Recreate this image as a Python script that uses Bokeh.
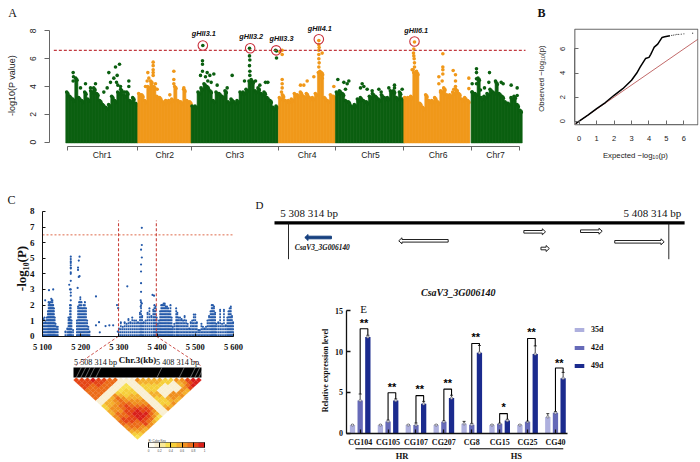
import numpy as np
from bokeh.core.properties import value
from bokeh.embed import file_html
from bokeh.resources import INLINE
from bokeh.layouts import column, row
from bokeh.plotting import figure
from bokeh.models import (Range1d, LinearAxis, FixedTicker, ColumnDataSource, Whisker, TeeHead,
                          LinearColorMapper, ColorBar, Legend, LegendItem)

SANS = "Liberation Sans"
SERIF = "Liberation Serif"

# ---- Panel A: Manhattan (envelope of the dense mass per chromosome bin, then the points above it)
chr_edges = [196, 412, 572, 834, 1005, 1210, 1412, 1560]
chr_ticks = [200, 412, 572, 834, 1005, 1210, 1412, 1557]
chr_centers = [305, 493, 703, 920, 1110, 1313, 1485]
chr_names = ["Chr1", "Chr2", "Chr3", "Chr4", "Chr5", "Chr6", "Chr7"]
chr1_top = [3.6, 3.3, 3.1, 4.6, 3.2, 3.0, 3.6, 3.1, 3.7, 3.9, 3.5, 3.0, 2.7, 2.5, 2.7, 3.3, 3.0, 3.6, 3.8, 3.4, 3.6, 3.0, 3.2, 2.8]
chr2_top = [3.5, 3.4, 3.0, 4.0, 4.4, 4.0, 3.3, 3.2, 2.9, 3.0, 3.0, 3.1, 4.0, 3.0, 2.9, 3.8, 3.0, 2.9]
chr3_top = [2.6, 2.6, 3.6, 3.9, 4.2, 4.0, 3.7, 3.0, 3.6, 3.5, 3.3, 3.7, 2.9, 3.1, 2.9, 3.0, 3.6, 3.6, 3.8, 4.4, 4.4, 3.7, 3.9, 3.5, 3.6, 3.2, 3.0, 2.5, 2.6]
chr4_top = [3.2, 3.4, 3.0, 3.0, 3.1, 3.5, 3.4, 3.6, 3.3, 3.5, 3.2, 3.2, 3.5, 5.0, 5.0, 3.2, 3.0, 3.4, 3.3]
chr5_top = [3.6, 3.7, 3.5, 3.0, 2.9, 2.6, 2.7, 3.1, 3.2, 3.0, 2.9, 3.3, 3.5, 3.3, 3.1, 3.4, 3.2, 3.2, 3.7, 3.7, 3.2, 3.6, 3.1]
chr6_top = [3.2, 3.2, 3.3, 5.0, 5.0, 2.8, 2.5, 3.4, 3.0, 3.0, 3.2, 2.9, 3.7, 3.9, 3.4, 3.4, 3.6, 3.8, 3.5, 3.1, 3.2, 3.0]
chr7_top = [3.6, 3.5, 4.6, 3.2, 3.3, 3.5, 3.8, 3.6, 4.3, 3.5, 3.3, 2.9, 2.8, 3.2, 3.3, 2.7, 2.3]
green_pos = [218, 219, 218, 325, 345, 357, 340, 350, 348, 352, 330, 385, 385, 360, 372, 255, 240, 285, 270, 310, 320,
             607, 606, 606, 606, 620, 628, 640, 615, 600, 622, 632, 650, 695, 680, 747, 747, 748, 747, 748, 748, 752, 732, 765, 778, 795, 802, 825, 828, 828,
             1012, 1030, 1045, 1040, 1035, 1085, 1090, 1100, 1080, 1115, 1135, 1165, 1182, 1182, 1205, 1142,
             1428, 1428, 1428, 1428, 1467, 1465, 1485, 1502, 1508, 1452, 1440, 1415, 1415, 1532, 1550, 1550]
green_val = [5.0, 4.7, 4.4, 5.0, 5.4, 5.6, 4.6, 4.8, 4.3, 4.1, 4.3, 4.4, 4.0, 4.0, 3.6, 4.2, 3.9, 4.2, 3.9, 3.6, 3.9,
             6.95, 5.85, 5.6, 5.1, 5.0, 4.8, 4.9, 4.7, 4.8, 4.4, 4.3, 4.1, 4.8, 3.9, 6.75, 6.2, 5.9, 5.5, 5.1, 4.8, 4.5, 4.4, 4.4, 4.1, 4.3, 4.3, 6.6, 6.05, 6.55,
             4.5, 4.3, 4.4, 4.2, 3.8, 4.2, 4.0, 3.8, 3.9, 3.7, 3.8, 3.9, 4.1, 3.9, 3.8, 3.6,
             5.27, 5.0, 4.55, 4.2, 5.0, 4.3, 4.4, 4.3, 4.2, 3.9, 3.75, 4.2, 3.6, 4.1, 3.9, 3.35]
orange_pos = [458, 458, 458, 458, 458, 442, 445, 440, 520, 520, 520, 550, 435, 465, 508, 470,
              955, 955, 956, 955, 955, 955, 956, 955, 958, 965, 965, 940, 920, 910, 900, 845, 845, 845, 843, 838, 845, 845, 1000,
              1242, 1240, 1239, 1240, 1241, 1242, 1242, 1238, 1235, 1248, 1245, 1327, 1327, 1327, 1327, 1315, 1315, 1325, 1358, 1365, 1365, 1365, 1405, 1405, 1360, 1320, 1370]
orange_val = [5.75, 5.5, 5.2, 5.0, 4.8, 5.0, 4.6, 4.4, 5.1, 4.5, 4.2, 3.9, 4.0, 4.2, 3.4, 3.8,
              7.3, 7.0, 6.8, 6.6, 6.3, 6.0, 5.7, 5.4, 5.1, 4.6, 6.4, 4.7, 4.4, 4.1, 4.1, 4.5, 4.2, 3.9, 3.6, 6.5, 6.3, 6.6, 4.0,
              7.2, 6.7, 6.4, 6.2, 6.0, 5.7, 5.4, 5.2, 5.2, 5.1, 4.9, 6.35, 5.4, 5.2, 4.9, 4.7, 4.2, 4.4, 5.15, 4.85, 4.4, 4.0, 4.6, 3.85, 3.8, 3.6, 3.7]
qtl_names = ["gHII3.1", "gHII3.2", "gHII3.3", "gHII4.1", "gHII6.1"]
qtl_pos = [607, 749, 827, 955, 1242]
qtl_val = [6.95, 6.75, 6.6, 7.4, 7.23]
qtl_label_pos = [610, 752, 843, 958, 1247]
qtl_label_val = [7.78, 7.6, 7.47, 8.17, 8.02]
threshold_a = 6.6
a_ticks = [0, 2, 4, 6, 8]

# ---- Panel B: QQ
qq_expected = [-0.2, 0, 0.5, 1, 1.5, 2, 2.5, 3, 3.3, 3.5, 3.8, 4, 4.1, 4.2, 4.3, 4.5, 4.75, 4.9, 5.2]
qq_observed = [-0.2, 0, 0.5, 1.05, 1.55, 2.15, 2.7, 3.4, 4.0, 4.5, 5.2, 5.3, 5.55, 5.85, 6.15, 6.4, 6.95, 7.0, 7.1]
qq_tail_x = [5.3, 5.4, 5.5, 5.6, 5.7, 5.85, 6.0, 6.5]
qq_tail_y = [7.12, 7.15, 7.17, 7.2, 7.2, 7.22, 7.25, 7.3]
b_xticks = [0, 1, 2, 3, 4, 5, 6]
b_yticks = [0, 2, 4, 6]

# ---- Panel C: regional association (column position / column top, and the isolated points)
col_kb = [5102, 5105, 5108, 5111, 5114, 5116, 5118, 5120, 5122, 5124, 5126, 5128, 5130, 5132, 5134, 5137, 5140,
          5160, 5165, 5168, 5170, 5172, 5174, 5176, 5180,
          5190, 5193, 5196, 5199, 5202, 5205, 5208, 5211, 5214, 5217, 5220, 5223,
          5300, 5305, 5310, 5315, 5320, 5325, 5330, 5335, 5340, 5345, 5350, 5355, 5358, 5361, 5365, 5370, 5375, 5380, 5385, 5390, 5393, 5396, 5399,
          5402, 5405, 5408, 5411, 5414, 5417, 5420, 5423, 5426, 5429, 5432, 5435, 5438, 5441, 5445, 5450, 5453, 5456, 5460, 5464, 5468, 5472, 5476, 5480, 5484, 5488, 5492, 5496,
          5500, 5504, 5508, 5512, 5516, 5520, 5524, 5528, 5532, 5536, 5540, 5543, 5546, 5549, 5552, 5555, 5560, 5565, 5570, 5575, 5580, 5584, 5587, 5590, 5593, 5596, 5599]
col_top = [1.1, 1.2, 0.9, 1.2, 1.6, 2.2, 2.1, 2.2, 2.0, 2.3, 2.3, 2.0, 1.8, 1.2, 0.8, 0.6, 0.6,
           0.3, 0.5, 1.2, 1.1, 2.0, 2.0, 1.0, 0.4,
           1.0, 1.9, 2.2, 2.5, 2.2, 1.8, 2.0, 2.2, 1.8, 1.0, 0.6, 0.3,
           0.5, 0.9, 0.6, 0.9, 0.8, 1.1, 0.9, 1.2, 1.0, 1.0, 0.9, 1.5, 2.2, 1.3, 0.9, 1.0, 1.5, 1.8, 1.3, 1.7, 2.0, 1.9, 1.2,
           0.8, 1.0, 1.6, 2.0, 2.0, 2.1, 2.1, 1.9, 1.9, 1.8, 1.6, 2.0, 1.2, 0.6, 0.8, 1.8, 1.5, 1.2, 1.2, 1.1, 1.0, 1.3, 1.0, 0.8, 0.5, 0.9, 1.0, 1.4,
           1.4, 0.9, 0.4, 0.4, 0.8, 0.6, 0.5, 0.6, 1.0, 1.3, 1.6, 2.0, 2.0, 1.9, 1.5, 0.8, 0.9, 1.7, 0.8, 1.7, 0.7, 1.2, 1.6, 1.8, 1.9, 1.3, 0.9]
snp_kb = [5117, 5128, 5107, 5123, 5174, 5174, 5174, 5174, 5174, 5174, 5174, 5174, 5174, 5174, 5174, 5174, 5174, 5174, 5170, 5172,
          5197, 5195, 5193, 5193, 5197, 5195, 5192, 5240, 5248, 5240, 5250, 5265, 5275, 5285, 5295, 5298, 5297,
          5360, 5360, 5358, 5360, 5358, 5358, 5358, 5358, 5322, 5388, 5392, 5357, 5360, 5357]
snp_val = [2.95, 3.0, 2.3, 2.4, 5.1, 4.95, 4.8, 4.7, 4.55, 4.4, 4.35, 4.1, 4.0, 3.55, 3.0, 2.8, 2.6, 2.3, 3.3, 3.0,
           5.1, 4.85, 4.4, 4.25, 3.85, 3.8, 3.1, 2.55, 0.9, 0.7, 0.25, 0.65, 0.7, 0.7, 2.0, 1.8, 0.3,
           6.95, 5.85, 5.55, 5.05, 4.6, 4.15, 3.4, 2.85, 3.2, 2.65, 2.6, 2.3, 2.1, 1.9]
threshold_c = 6.5
window_kb = [5299, 5398]
window_top = 7.42
c_ticks = [5100, 5200, 5300, 5400, 5500, 5600]
c_tick_labels = ["5 100", "5 200", "5 300", "5 400", "5 500", "5 600"]
c_yticks = [0, 1, 2, 3, 4, 5, 6, 7, 8]

# ---- LD heat map, one digit (r2 x 9) per SNP pair; row i holds pairs (i, i+1) ... (i, 23)
ld_rows = ["8888777711" + "4455667766543",
           "888777711" + "5566778877654",
           "88777711" + "5566677887765",
           "9887711" + "5667788887765",
           "887711" + "6777888999886",
           "87711" + "4566778999876",
           "7711" + "3445667889875",
           "711" + "3445566788764",
           "11" + "3344556677653",
           "1" + "1111111111111",
           "1111111111111",
           "654445544456", "55444554445", "5544111556", "554111665", "54111665", "4411166",
           "411165", "65565", "6678", "889", "99", "9"]
ld_links = [1.0, 1.8, 2.6, 3.4, 4.5, 15.5, 19.5, 21.5, 22.3, 23.0]
ld_palette = ["#fffdf2", "#f9efd2", "#f9e998", "#f8e050", "#f6cf3a", "#f4b02c", "#f0901f", "#ec6c18", "#e54516", "#d9201a"]

# ---- Panel D: gene models (kb)
gene_start = [5319.6, 5350.3, 5370.2, 5374.7, 5385.1, 5394.1]
gene_end = [5312.6, 5337.3, 5375.9, 5376.9, 5390.8, 5407.1]
gene_track = [237.0, 240.3, 231.3, 248.0, 230.7, 241.3]
region_kb = [5308.314, 5408.314]
region_labels = ["5 308 314 bp", "5 408 314 bp"]

# ---- Panel E: expression
lines = ["CG104", "CG105", "CG107", "CG207", "CG8", "CG15", "CG25", "CG40"]
d35 = [1.0, 1.0, 1.0, 1.0, 1.15, 1.0, 1.0, 2.0]
d42 = [4.0, 1.45, 1.0, 1.4, 1.05, 1.15, 1.4, 2.5]
d49 = [11.8, 4.0, 3.6, 4.3, 9.85, 1.55, 9.7, 6.75]
e35 = [0.05, 0.03, 0.05, 0.05, 0.3, 0.03, 0.03, 0.4]
e42 = [0.8, 0.15, 0.25, 0.1, 0.15, 0.05, 0.05, 0.15]
e49 = [0.2, 0.2, 0.3, 0.35, 0.9, 0.15, 1.0, 0.7]
bracket_top = [12.8, 4.96, 4.6, 5.4, 11.0, 2.4, 11.6, 8.0]
star_y = [13.55, 5.7, 5.4, 6.2, 11.8, 3.2, 12.35, 8.65]
star_text = ["**", "**", "**", "**", "**", "*", "**", "**"]
series_names = ["35d", "42d", "49d"]
series_colors = ["#aeb0de", "#666ab8", "#1b2b8e"]
e_yticks = [0, 5, 10, 15]


def panel(w, h, xr, yr, top=0, right=0):
    p = figure(width=w, height=h, x_range=Range1d(*xr), y_range=Range1d(*yr), x_axis_type=None, y_axis_type=None,
               toolbar_location=None, output_backend="svg", min_border_left=0, min_border_right=right,
               min_border_top=top, min_border_bottom=0, outline_line_color=None, frame_align=False)
    p.grid.visible = False
    return p


def txt(p, x, y, s, size, font=SERIF, style="normal", color="#111111", align="center", angle=0.0, **kw):
    xs = list(x) if np.ndim(x) else [x] * (len(s) if isinstance(s, list) else 1)
    ys = list(y) if np.ndim(y) else [y] * (len(s) if isinstance(s, list) else 1)
    ss = s if isinstance(s, list) else [s]
    p.text(x=xs, y=ys, text=ss, text_font=value(font), text_font_size=f"{size}px", text_font_style=style,
           text_color=color, text_align=align, text_baseline="middle", angle=angle, **kw)


def axis(p, dim, loc, ticks, bounds, color="#111111", width=1.0, tick=4):
    # ticks point into the frame from an axis placed at a fixed data location; the texts are drawn by txt()
    ax = LinearAxis(fixed_location=loc, ticker=FixedTicker(ticks=ticks), bounds=bounds,
                    axis_line_color=color, axis_line_width=width, major_tick_line_color=color, major_tick_line_width=width,
                    major_tick_in=tick, major_tick_out=0, minor_tick_line_color=None, major_label_standoff=0,
                    major_label_text_font_size="1px", major_label_text_color="#ffffff",
                    major_label_overrides={t: " " for t in ticks})
    p.add_layout(ax, "above" if dim == "x" else "right")
    return ax


PI2 = np.pi / 2
# ---------- A
a = panel(530, 175, (0, 1584), (-2.392, 10.036), top=2, right=2)
GREEN, ORANGE = "#0b5f10", "#f0981a"
tops = [chr1_top, chr2_top, chr3_top, chr4_top, chr5_top, chr6_top, chr7_top]
for k, t in enumerate(tops):
    col = GREEN if k % 2 == 0 else ORANGE
    xs = chr_edges[k] + 4.5 + 9 * np.arange(len(t))
    xs = xs[xs < chr_edges[k + 1] + 4]
    t = np.array(t[:len(xs)])
    a.vbar(x=xs, top=t, bottom=-0.05, width=9.4, fill_color=col, line_color=col, line_width=0.6)
    a.scatter(xs - 2, t, size=3.6, color=col, line_width=0)
    a.scatter(xs + 2, t - 0.15, size=3.6, color=col, line_width=0)
a.scatter(green_pos, green_val, size=3.6, color=GREEN, line_width=0)
a.scatter(orange_pos, orange_val, size=3.6, color=ORANGE, line_width=0)
a.segment(x0=[160], x1=[1575], y0=[threshold_a], y1=[threshold_a], line_color="#c23a40", line_width=1.1, line_dash="3 2")
a.scatter(qtl_pos, qtl_val, size=9.5, fill_color=None, line_color="#c9303c", line_width=1.1)
txt(a, qtl_label_pos, qtl_label_val, qtl_names, 7.3, font=SANS, style="bold italic")
axis(a, "y", 147, a_ticks, (0, 8), color="#666666", tick=5)
axis(a, "x", -0.31, chr_ticks, (200, 1557), color="#666666", tick=4)
txt(a, 96, a_ticks, [str(v) for v in a_ticks], 8.5, font=SANS, color="#222222", angle=PI2)
txt(a, chr_centers, -0.955, chr_names, 8.6, font=SANS, color="#222222")
txt(a, 36, (141.7 - 12) / 13.92, "A", 12)
txt(a, 33, 4.07, "-log10(P value)", 9, font=SANS, color="#222222", angle=PI2)

# ---------- B
b = panel(170, 175, (-2.791, 6.837), (-4.506, 9.851), top=2, right=2)
b.line([-0.25, 6.8], [-0.25, 6.8], line_color="#c26a6a", line_width=1)
b.line(qq_expected, qq_observed, line_color="#000000", line_width=1.5)
b.scatter(qq_tail_x, qq_tail_y, size=1.3, color="#555555", line_width=0)
b.quad(left=[-0.25], right=[6.8], bottom=[-0.3], top=[7.63], fill_color=None, line_color="#6a6a6a", line_width=1.1)
axis(b, "x", -0.3, b_xticks, (0, 6), color="#6a6a6a", tick=-4)
axis(b, "y", -0.25, b_yticks, (0, 6), color="#6a6a6a", tick=-4)
txt(b, b_xticks, (120.7 - 138) / 12.05, [str(v) for v in b_xticks], 7.5, font=SANS, color="#222222")
txt(b, (561.7 - 578.7) / 17.45, b_yticks, [str(v) for v in b_yticks], 7.5, font=SANS, color="#222222", angle=PI2)
txt(b, (636 - 578.7) / 17.45, (120.7 - 155) / 12.05, "Expected  \u2212log\u2081\u2080(p)", 7.8, font=SANS, color="#222222")
txt(b, (541 - 578.7) / 17.45, (120.7 - 77) / 12.05, "Observed  \u2212log\u2081\u2080(p)", 7.8, font=SANS, color="#222222", angle=PI2)
txt(b, (541 - 578.7) / 17.45, (120.7 - 12) / 12.05, "B", 12, style="bold")

# ---------- C (association scan and LD triangle share one frame, each with its own scale)
c = panel(250, 287, (4990.05, 5639.27), (-8.10, 10.18), top=2, right=2)
c.extra_x_ranges = {"ldx": Range1d(-12.62, 31.95)}
c.extra_y_ranges = {"ldy": Range1d(-16.45, 38.71)}
BLUE = "#2459a9"
c.segment(x0=col_kb, x1=col_kb, y0=[0] * len(col_kb), y1=col_top, line_color=BLUE, line_width=1.7, line_dash="2 1")
c.scatter(col_kb, col_top, size=2, color=BLUE, line_width=0)
c.scatter(snp_kb, snp_val, size=2.2, color=BLUE, line_width=0)
c.segment(x0=[5100], x1=[5600], y0=[threshold_c], y1=[threshold_c], line_color="#de6a4a", line_width=1, line_dash="2 2")
c.segment(x0=window_kb, x1=window_kb, y0=[0, 0], y1=[window_top] * 2, line_color="#c8413a", line_width=1.1, line_dash="3 2")
c.segment(x0=window_kb, x1=[5187, 5514], y0=[0, 0], y1=[-1.88, -1.88], line_color="#c8413a", line_width=0.9, line_dash="3 2")
axis(c, "x", 0, c_ticks, (5100, 5600), tick=-3)
axis(c, "y", 5100, c_yticks, (0, 8), tick=-3)
txt(c, c_ticks, (335.7 - 346) / 15.59, c_tick_labels, 8.5, style="bold")
txt(c, 5073, c_yticks, [str(v) for v in c_yticks], 9, style="bold")
txt(c, 5100 + (137 - 42) / 0.382, (335.7 - 359) / 15.59, "Chr.3(kb)", 9, style="bold")
txt(c, 5100 + (95 - 42) / 0.382, (335.7 - 362) / 15.59, "5 508 314 bp", 8.2)
txt(c, 5100 + (177 - 42) / 0.382, (335.7 - 362) / 15.59, "5 408 314 bp", 8.2)
txt(c, 5100 + (21 - 42) / 0.382, (335.7 - 268) / 15.59, "-log\u2081\u2080(P)", 13, style="bold", angle=PI2)
txt(c, 5100 + (11 - 42) / 0.382, (335.7 - 199) / 15.59, "C", 12)

mapper = LinearColorMapper(palette=ld_palette, low=0, high=1)
xs_ld, ys_ld, vals_ld = [], [], []
for i, rs in enumerate(ld_rows):
    for off, ch in enumerate(rs):
        j = i + 1 + off
        cx, cd = (i + j) / 2 + 0.5, (j - i) / 2
        xs_ld.append([cx - 0.5, cx, cx + 0.5, cx])
        ys_ld.append([-cd, -cd + 0.5, -cd, -cd - 0.5])
        vals_ld.append(int(ch) / 9)
c.patches(xs="xs", ys="ys", source=ColumnDataSource(dict(xs=xs_ld, ys=ys_ld, v=vals_ld)), x_range_name="ldx", y_range_name="ldy",
          fill_color={"field": "v", "transform": mapper}, line_color={"field": "v", "transform": mapper}, line_width=0.2)
c.quad(left=[0.5], right=[23.5], bottom=[0], top=[1.94], fill_color="#000000", line_color="#000000", line_width=0, x_range_name="ldx", y_range_name="ldy")
c.segment(x0=ld_links, x1=[v + 0.9 for v in ld_links], y0=[0] * len(ld_links), y1=[1.94] * len(ld_links), line_color="#ffffff", line_width=0.4,
          x_range_name="ldx", y_range_name="ldy")
cb = ColorBar(color_mapper=mapper, location=(148, 8), width=56, height=5, orientation="horizontal", padding=0, margin=0,
              ticker=FixedTicker(ticks=[0, 0.2, 0.4, 0.6, 0.8, 1]), major_label_text_font_size="3px", title="R\u00b2 Color Key",
              title_text_font_size="3px", title_standoff=1, label_standoff=1, bar_line_color="#000000", bar_line_width=0.5,
              background_fill_color=None, major_tick_line_color="#000000", title_text_font_style="normal")
c.add_layout(cb, "center")

# ---------- D
d = panel(450, 97, (5298.32, 5416.65), (272, 175))
d.segment(x0=[5304.63], x1=[5412.47], y0=[222.3], y1=[222.3], line_color="#000000", line_width=3.3)
d.segment(x0=region_kb, x1=region_kb, y0=[222.3] * 2, y1=[258.7] * 2, line_color="#111111", line_width=0.9)
xs_g, ys_g = [], []
head = 0.85
for s, en, t in zip(gene_start, gene_end, gene_track):
    dirn = 1 if en > s else -1
    xs_g.append([s, en - dirn * head, en - dirn * head, en, en - dirn * head, en - dirn * head, s])
    ys_g.append([t - 1.3, t - 1.3, t - 3, t, t + 3, t + 1.3, t + 1.3])
d.patches(xs_g, ys_g, fill_color=["#16407f"] + ["#ffffff"] * 5, line_color=["#16407f"] + ["#222222"] * 5, line_width=1)
txt(d, 5317.2, 247, "CsaV3_3G006140", 7.4, style="bold italic")
for kb, lab, shift in zip(region_kb, region_labels, [5.4, -4.35]):
    txt(d, kb + shift, 212.7, lab, 11)
txt(d, 5308.314 - (288 - 259) / 3.803, 204, "D", 11)

# ---------- E
e = panel(450, 190, (-3.931, 12.127), (-3.59, 19.45), top=2, right=2)
xi = np.arange(len(lines))
renderers = []
for offs, vals, errs, col, name in zip([-0.275, 0, 0.275], [d35, d42, d49], [e35, e42, e49], series_colors, series_names):
    src = ColumnDataSource(dict(x=xi + offs, v=vals, lo=np.array(vals) - np.array(errs), hi=np.array(vals) + np.array(errs)))
    r = e.vbar(x="x", top="v", width=0.19, source=src, fill_color=col, line_color=None)
    renderers.append(r)
    e.add_layout(Whisker(base="x", lower="lo", upper="hi", source=src, line_color="#111111", line_width=0.8,
                         upper_head=TeeHead(size=3, line_color="#111111", line_width=0.8),
                         lower_head=TeeHead(size=3, line_color="#111111", line_width=0.8)))
    e.scatter("x", "v", source=src, size=2.6, fill_color="#c8c8d8", line_color="#444444", line_width=0.4)
for i in range(len(lines)):
    e.line([i, i, i + 0.275, i + 0.275], [d42[i] + e42[i], bracket_top[i], bracket_top[i], d49[i] + e49[i]],
           line_color="#000000", line_width=1.1)
txt(e, list(xi + 0.14), star_y, star_text, 11, font=SANS, style="bold", color="#000000")
axis(e, "x", 0, list(range(8)), (-0.49, 7.42), width=1.3, tick=-4)
axis(e, "y", -0.49, e_yticks, (0, 15), width=1.3, tick=-4)
txt(e, list(xi), (432.7 - 441.7) / 8.16, lines, 8, style="bold")
txt(e, (342.5 - 359.67) / 27.9, e_yticks, [str(v) for v in e_yticks], 8, style="bold", align="right")
e.segment(x0=[-0.17, 3.93], x1=[3.26, 7.28], y0=[-1.91, -1.91], y1=[-1.91, -1.91], line_color="#000000", line_width=1)
txt(e, 1.5, -2.82, "HR", 8.5, style="bold")
txt(e, 5.6, -2.82, "HS", 8.5, style="bold")
txt(e, (457.7 - 359.67) / 27.9, (432.7 - 291.7) / 8.16, "CsaV3_3G006140", 10, style="bold italic")
txt(e, (363 - 359.67) / 27.9, (432.7 - 308) / 8.16, "E", 11)
txt(e, (325 - 359.67) / 27.9, (432.7 - 370) / 8.16, "Relative expression level", 8, style="bold", angle=PI2)
leg = Legend(items=[LegendItem(label=n, renderers=[r]) for n, r in zip(series_names, renderers)], location=(323, 92),
             padding=0, margin=0, spacing=9, glyph_width=12, glyph_height=5, label_height=5, label_standoff=6,
             label_text_font=SERIF, label_text_font_size="8px", label_text_font_style="bold", label_text_color="#111111",
             border_line_color=None, background_fill_alpha=0)
e.add_layout(leg, "center")

root = column(row(a, b, spacing=0), row(c, column(d, e, spacing=0), spacing=0), spacing=0)
open("out.html", "w").write(file_html(root, INLINE))
